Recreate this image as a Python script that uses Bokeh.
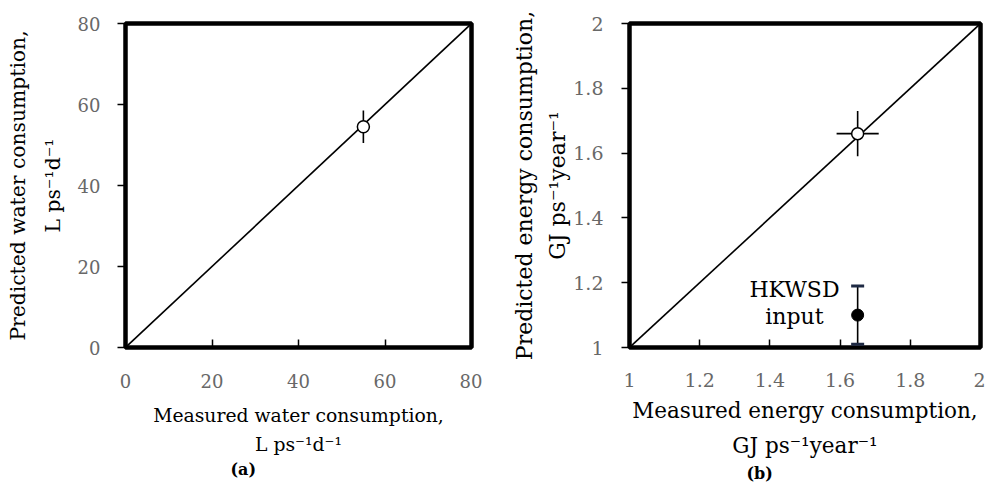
from bokeh.plotting import figure
from bokeh.layouts import row
from bokeh.models import FixedTicker, Label, Whisker, TeeHead, ColumnDataSource, Range1d, Title
from bokeh.embed import file_html
from bokeh.resources import INLINE

# ---- Panel (a): water ----
water_ticks = [0, 20, 40, 60, 80]
water_tick_labels = ["0", "20", "40", "60", "80"]
water_measured = [55.0]
water_predicted = [54.5]
water_pred_err = [4.0]
water_diag = [0, 80]

# ---- Panel (b): energy ----
energy_ticks = [1.0, 1.2, 1.4, 1.6, 1.8, 2.0]
energy_tick_labels = ["1", "1.2", "1.4", "1.6", "1.8", "2"]
energy_measured = [1.65]
energy_predicted = [1.66]
energy_meas_err = [0.06]
energy_pred_err = [0.07]
hkwsd_measured = [1.65]
hkwsd_predicted = [1.10]
hkwsd_low = [1.01]
hkwsd_high = [1.19]
energy_diag = [1.0, 2.0]

SERIF = "DejaVu Serif"
TICK_GRAY = "#686868"


def style(p, ticks, labels, tick_fs):
    for ax in (p.xaxis[0], p.yaxis[0]):
        ax.ticker = FixedTicker(ticks=ticks)
        ax.major_label_overrides = dict(zip(ticks, labels))
        ax.axis_line_color = None
        ax.major_tick_line_color = "black"
        ax.major_tick_line_width = 1.5
        ax.minor_tick_line_color = None
        ax.major_label_text_font = SERIF
        ax.major_label_text_font_size = tick_fs
        ax.major_label_text_color = TICK_GRAY
        ax.axis_label_text_font = SERIF
        ax.axis_label_text_font_style = "normal"
        ax.axis_label_text_color = "black"
        ax.axis_label_text_line_height = 1.4
    p.xaxis.major_tick_in = 8
    p.xaxis.major_tick_out = 0
    p.yaxis.major_tick_in = 0
    p.yaxis.major_tick_out = 8
    p.grid.visible = False
    p.outline_line_color = "black"
    p.outline_line_width = 4.5
    p.background_fill_color = "white"
    p.border_fill_color = "white"


# ---------------- Figure (a) ----------------
p1 = figure(width=482, height=484, output_backend="svg", toolbar_location=None,
            x_range=Range1d(water_diag[0], water_diag[1]),
            y_range=Range1d(water_diag[0], water_diag[1]),
            min_border_left=125, min_border_right=11,
            min_border_top=23, min_border_bottom=135)
style(p1, water_ticks, water_tick_labels, "18px")
p1.xaxis.axis_label = "Measured water consumption,\nL ps\u207b\u00b9d\u207b\u00b9"
p1.yaxis.axis_label = "Predicted water consumption,\nL ps\u207b\u00b9d\u207b\u00b9"
p1.xaxis.axis_label_text_font_size = "18.8px"
p1.yaxis.axis_label_text_font_size = "20.3px"
p1.yaxis.axis_label_text_line_height = 1.43
p1.xaxis.major_label_standoff = 26
p1.xaxis.axis_label_standoff = 14
p1.yaxis.major_label_standoff = 17
p1.yaxis.axis_label_standoff = 10

p1.line(water_diag, water_diag, line_color="black", line_width=1.6)
wsrc = ColumnDataSource(dict(
    x=water_measured, y=water_predicted,
    lo=[v - e for v, e in zip(water_predicted, water_pred_err)],
    hi=[v + e for v, e in zip(water_predicted, water_pred_err)],
))
p1.segment(x0="x", y0="lo", x1="x", y1="hi", source=wsrc, line_color="black", line_width=1.6)
p1.scatter(x="x", y="y", source=wsrc, size=12, fill_color="white", line_color="black", line_width=1.5)

p1.add_layout(Title(text="(a)", align="left", offset=105, standoff=0,
                    text_font=SERIF, text_font_style="bold", text_font_size="16px",
                    text_color="black"), "below")

# ---------------- Figure (b) ----------------
p2 = figure(width=503, height=484, output_backend="svg", toolbar_location=None,
            x_range=Range1d(energy_diag[0], energy_diag[1]),
            y_range=Range1d(energy_diag[0], energy_diag[1]),
            min_border_left=147, min_border_right=5,
            min_border_top=23, min_border_bottom=135)
style(p2, energy_ticks, energy_tick_labels, "19px")
p2.xaxis.axis_label = "Measured energy consumption,\nGJ ps\u207b\u00b9year\u207b\u00b9"
p2.yaxis.axis_label = "Predicted energy consumption,\nGJ ps\u207b\u00b9year\u207b\u00b9"
p2.xaxis.axis_label_text_font_size = "21.5px"
p2.yaxis.axis_label_text_font_size = "22px"
p2.yaxis.axis_label_text_line_height = 1.35
p2.xaxis.major_label_standoff = 25
p2.xaxis.axis_label_standoff = 8
p2.yaxis.major_label_standoff = 18
p2.yaxis.axis_label_standoff = 0

p2.line(energy_diag, energy_diag, line_color="black", line_width=1.6)
esrc = ColumnDataSource(dict(
    x=energy_measured, y=energy_predicted,
    xlo=[v - e for v, e in zip(energy_measured, energy_meas_err)],
    xhi=[v + e for v, e in zip(energy_measured, energy_meas_err)],
    ylo=[v - e for v, e in zip(energy_predicted, energy_pred_err)],
    yhi=[v + e for v, e in zip(energy_predicted, energy_pred_err)],
))
p2.segment(x0="x", y0="ylo", x1="x", y1="yhi", source=esrc, line_color="black", line_width=1.6)
p2.segment(x0="xlo", y0="y", x1="xhi", y1="y", source=esrc, line_color="black", line_width=1.6)
p2.scatter(x="x", y="y", source=esrc, size=12, fill_color="white", line_color="black", line_width=1.5)

hsrc = ColumnDataSource(dict(x=hkwsd_measured, y=hkwsd_predicted, lo=hkwsd_low, hi=hkwsd_high))
CAP = "#1f2a44"
p2.add_layout(Whisker(base="x", lower="lo", upper="hi", source=hsrc, dimension="height",
                      line_color="black", line_width=1.6,
                      upper_head=TeeHead(size=13, line_width=3, line_color=CAP),
                      lower_head=TeeHead(size=13, line_width=3, line_color=CAP)))
p2.scatter(x="x", y="y", source=hsrc, size=12, fill_color="black", line_color="black")

for txt, yy in (("HKWSD", 1.18), ("input", 1.095)):
    p2.add_layout(Label(x=1.47, y=yy, text=txt, text_align="center", text_baseline="middle",
                        text_font=SERIF, text_font_size="22px", text_color="black"))

p2.add_layout(Title(text="(b)", align="left", offset=117, standoff=3,
                    text_font=SERIF, text_font_style="bold", text_font_size="16px",
                    text_color="black"), "below")

layout = row(p1, p2)
open("out.html", "w").write(file_html(layout, INLINE))
